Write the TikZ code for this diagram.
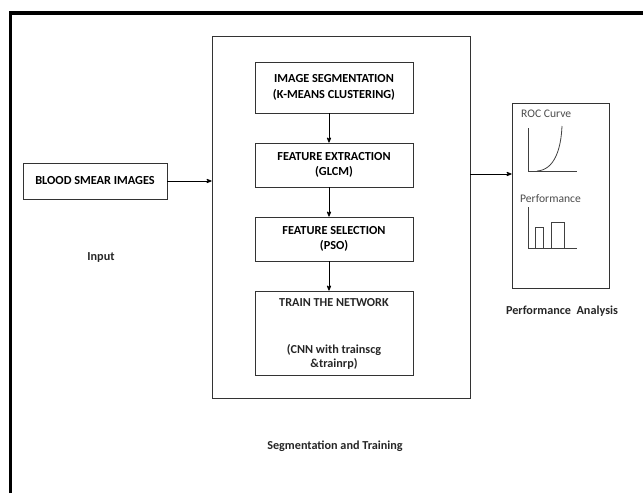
\documentclass[tikz,border=0pt]{standalone}
\usepackage{fontspec}
\setmainfont{Carlito}
\usetikzlibrary{arrows}

\begin{document}
\begin{tikzpicture}[x=1pt,y=-1pt,>=stealth',
  blk/.style={draw=black!80,line width=0.8pt,inner sep=0pt,align=center,
    font=\bfseries\fontsize{12.3}{15.3}\selectfont},
  lbl/.style={font=\bfseries\fontsize{12.2}{14}\selectfont,text=black!85},
  small/.style={font=\fontsize{11.6}{12}\selectfont,text=black!70},
  flow/.style={->,line width=0.8pt},
  chart/.style={draw=black!75,line width=0.8pt}]

  \useasboundingbox (0,0) rectangle (643,493);
  \draw[line width=3.5pt] (10.5,493) -- (10.5,12.75) -- (643,12.75);

  \node[blk,minimum width=144pt,minimum height=36pt] (blood) at (95,181) {BLOOD SMEAR IMAGES};
  \node[blk,minimum width=258pt,minimum height=362pt] (mid) at (341,217) {};
  \node[blk,minimum width=158pt,minimum height=51pt] (seg) at (334,87.5) {IMAGE SEGMENTATION\\(K-MEANS CLUSTERING)};
  \node[blk,minimum width=158pt,minimum height=44pt] (feat) at (334,165) {FEATURE EXTRACTION\\(GLCM)};
  \node[blk,minimum width=158pt,minimum height=44pt] (sel) at (334,239) {FEATURE SELECTION\\(PSO)};
  \node[blk,minimum width=158pt,minimum height=84pt] (train) at (334,333) {};
  \node[lbl] (trainT) at (334,303) {TRAIN THE NETWORK};
  \node[lbl,align=center] (trainC) at (334,357) {(CNN with trainscg\\\&trainrp)};
  \node[blk,minimum width=97pt,minimum height=185pt] (perf) at (560.5,195.5) {};

  \node[lbl] (inp) at (101,257) {Input};
  \node[lbl] (segL) at (335,446) {Segmentation and Training};
  \node[lbl] (perfL) at (562,311) {Performance\ \ Analysis};

  % inside the analysis panel
  \node[small,anchor=west,inner sep=0pt] (roc) at (521,114) {ROC Curve};
  \node[small,anchor=west,inner sep=0pt] (bars) at (520,199) {Performance};
  \draw[chart] (528,128) -- (528,171) -- (577,171);
  \draw[chart] (537,171) .. controls (554,170) and (561,150) .. (562,126);
  \draw[chart] (528,207) -- (528,248) -- (577,248);
  \draw[chart] (535,248) -- (535,227) -- (543,227) -- (543,248);
  \draw[chart] (551,248) -- (551,222) -- (564,222) -- (564,248);

  \coordinate (outy) at (0,174);
  \path[flow]
    (blood.east) edge (mid.west |- blood.east)
    ([xshift=-5pt]seg.south) edge ([xshift=-5pt]feat.north)
    ([xshift=-5pt]feat.south) edge ([xshift=-5pt]sel.north)
    ([xshift=-5pt]sel.south) edge ([xshift=-5pt]train.north)
    (mid.east |- outy) edge (perf.west |- outy);
\end{tikzpicture}
\end{document}
